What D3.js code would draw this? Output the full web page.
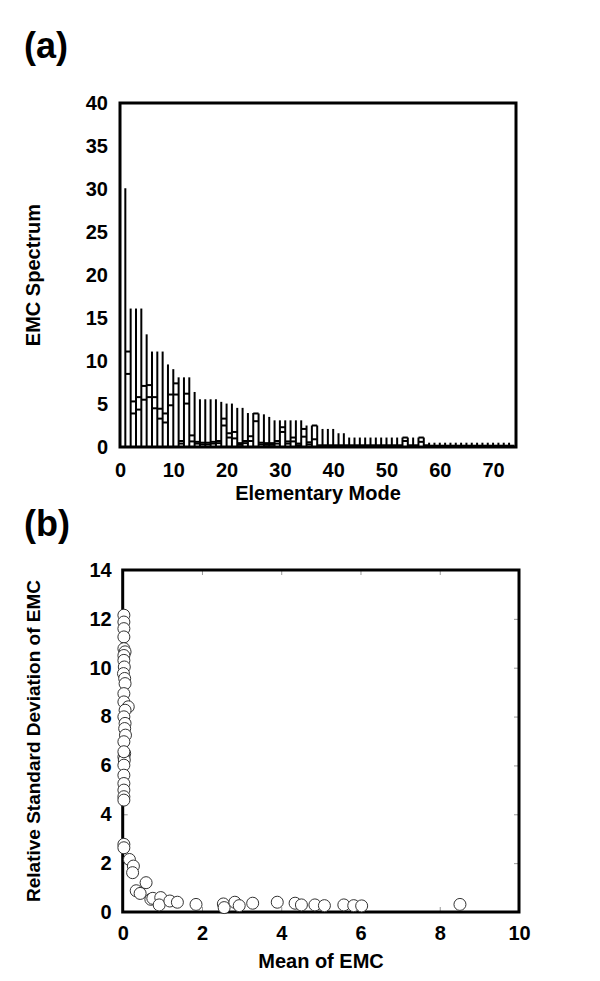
<!DOCTYPE html>
<html>
<head>
<meta charset="utf-8">
<script src="https://cdn.jsdelivr.net/npm/d3@7"></script>
<style>
  body { margin: 0; background: #fff; }
  text { font-family: "Liberation Sans", Arial, sans-serif; font-weight: bold; fill: #000; }
</style>
</head>
<body>
<div id="chart-area"></div>
<script>
// panel (a): EMC spectrum per elementary mode (max line + box marks)
const modes = d3.range(1, 74)
const emcMax = [30.1, 16.1, 16.1, 16.1, 13.1, 11.1, 11.1, 11.1, 9.6, 9.05,
  8.1, 8.1, 8.1, 6.4, 5.55, 5.55, 5.55, 5.55, 5.25, 5.05,
  5.05, 4.55, 4.55, 3.95, 3.95, 3.9, 3.8, 3.5, 3.1, 3.1,
  3.1, 3.1, 3.1, 3.1, 2.5, 2.5, 2.5, 2.1, 2.1, 2.1,
  1.6, 1.6, 1.1, 1.1, 1.1, 1.1, 1.1, 1.1, 1.1, 1.1,
  1.1, 1.1, 1.1, 1.1, 1.1, 1.1, 1.1, 0.5, 0.5, 0.5,
  0.5, 0.5, 0.5, 0.5, 0.5, 0.5, 0.5, 0.5, 0.5, 0.5,
  0.5, 0.5, 0.5]
const emcLow = [8.5, 3.9, 4.35, 5.5, 5.8, 4.5, 3.3, 2.85, 4.85, 6.1,
  0.4, 5.05, 0.65, 0.4, 0.3, 0.3, 0.4, 0.45, 2.5, 1.1,
  1.0, 0.25, 0.45, 0.7, 3.0, 0.3, 0.25, 0.25, 0.4, 1.75,
  0.4, 0.65, 0.2, 1.2, 0.3, 0.9, 0.1, 0.1, 0.1, 0.1,
  0.1, 0.1, 0.1, 0.1, 0.1, 0.1, 0.1, 0.1, 0.1, 0.1,
  0.1, 0.1, 0.7, 0.1, 0.1, 0.6, 0.1, 0.05, 0.05, 0.05,
  0.05, 0.05, 0.05, 0.05, 0.05, 0.05, 0.05, 0.05, 0.05, 0.05,
  0.05, 0.05, 0.05]
const emcHigh = [11.1, 5.3, 5.8, 7.1, 7.2, 5.8, 4.45, 3.9, 6.1, 7.4,
  0.7, 6.2, 1.35, 0.6, 0.5, 0.5, 0.6, 0.7, 3.3, 1.6,
  1.75, 0.45, 0.7, 1.25, 3.9, 0.5, 0.45, 0.45, 0.7, 2.3,
  0.65, 1.1, 0.4, 2.1, 0.55, 2.5, 0.2, 0.2, 0.2, 0.2,
  0.2, 0.2, 0.2, 0.2, 0.2, 0.2, 0.2, 0.2, 0.2, 0.2,
  0.2, 0.2, 1.1, 0.2, 0.2, 1.1, 0.2, 0.15, 0.15, 0.15,
  0.15, 0.15, 0.15, 0.15, 0.15, 0.15, 0.15, 0.15, 0.15, 0.15,
  0.15, 0.15, 0.15]
const aTicksX = [0, 10, 20, 30, 40, 50, 60, 70]
const aTicksY = [0, 5, 10, 15, 20, 25, 30, 35, 40]

// panel (b): mean vs relative standard deviation
const meanEMC = [0.03, 0.03, 0.03, 0.03, 0.03, 0.06, 0.03, 0.03, 0.04, 0.02,
  0.05, 0.06, 0.03, 0.03, 0.14, 0.06, 0.03, 0.06, 0.05, 0.07,
  0.03, 0.05, 0.03, 0.04, 0.03, 0.03, 0.03, 0.03, 0.03, 0.03,
  0.03, 0.03, 0.03, 0.17, 0.27, 0.25, 0.59, 0.34, 0.44, 0.71,
  0.76, 0.96, 0.92, 1.19, 1.38, 1.85, 2.54, 2.56, 2.83, 2.94,
  3.28, 3.9, 4.35, 4.51, 4.85, 5.09, 5.58, 5.83, 6.03, 8.51]
const rsdEMC = [12.15, 11.87, 11.6, 11.26, 10.78, 10.65, 10.5, 10.3, 10.03, 9.76,
  9.56, 9.35, 8.94, 8.6, 8.4, 8.26, 7.99, 7.72, 7.51, 7.24,
  6.97, 6.49, 6.35, 6.22, 6.01, 5.6, 5.26, 4.99, 4.72, 4.58,
  2.77, 2.63, 6.56, 2.15, 1.88, 1.61, 1.2, 0.87, 0.76, 0.52,
  0.56, 0.59, 0.29, 0.45, 0.4, 0.31, 0.33, 0.18, 0.4, 0.26,
  0.36, 0.4, 0.36, 0.29, 0.29, 0.26, 0.29, 0.26, 0.25, 0.31]
const bTicksX = [0, 2, 4, 6, 8, 10]
const bTicksY = [0, 2, 4, 6, 8, 10, 12, 14]

const svg = d3.select("#chart-area").append("svg")
  .attr("width", 600)
  .attr("height", 981)

// ---------- panel (a) ----------
const xA = d3.scaleLinear().domain([0, 74.3]).range([120, 516])
const yA = d3.scaleLinear().domain([0, 40]).range([447, 103])

const gA = svg.append("g")

svg.append("text")
  .attr("x", 24)
  .attr("y", 58)
  .attr("font-size", "36px")
  .text("(a)")

gA.selectAll(".maxline")
  .data(modes)
  .enter().append("line")
  .attr("class", "maxline")
  .attr("x1", d => xA(d))
  .attr("x2", d => xA(d))
  .attr("y1", yA(0))
  .attr("y2", (d, i) => yA(emcMax[i]))
  .attr("stroke", "#000")
  .attr("stroke-width", 2)

// box marks span from one mode line to the next
const marks = []
modes.forEach((m, i) => {
  marks.push({ m: m, v: emcLow[i] })
  marks.push({ m: m, v: emcHigh[i] })
})
gA.selectAll(".mark")
  .data(marks)
  .enter().append("line")
  .attr("class", "mark")
  .attr("x1", d => xA(d.m))
  .attr("x2", d => xA(d.m + 1))
  .attr("y1", d => yA(d.v))
  .attr("y2", d => yA(d.v))
  .attr("stroke", "#000")
  .attr("stroke-width", 2)

gA.append("rect")
  .attr("x", 120)
  .attr("y", 103)
  .attr("width", 516 - 120)
  .attr("height", 447 - 103)
  .attr("fill", "none")
  .attr("stroke", "#000")
  .attr("stroke-width", 3)

gA.append("g")
  .attr("transform", `translate(0, ${yA(0)})`)
  .call(d3.axisBottom(xA).tickValues(aTicksX).tickSize(0).tickPadding(16))
gA.append("g")
  .attr("transform", `translate(${xA(0)}, 0)`)
  .call(d3.axisLeft(yA).tickValues(aTicksY).tickSize(0).tickPadding(12))

gA.append("text")
  .attr("x", 318)
  .attr("y", 500)
  .attr("font-size", "20px")
  .attr("text-anchor", "middle")
  .text("Elementary Mode")

gA.append("text")
  .attr("transform", "rotate(-90)")
  .attr("x", -275)
  .attr("y", 40)
  .attr("font-size", "20px")
  .attr("text-anchor", "middle")
  .text("EMC Spectrum")

// ---------- panel (b) ----------
const xB = d3.scaleLinear().domain([0, 10]).range([122.7, 519])
const yB = d3.scaleLinear().domain([0, 14]).range([912, 570])

const gB = svg.append("g")

svg.append("text")
  .attr("x", 24)
  .attr("y", 536)
  .attr("font-size", "36px")
  .text("(b)")

// small inner ticks on all four sides
gB.append("g").attr("class", "inner")
  .attr("transform", `translate(0, ${yB(0)})`)
  .call(d3.axisBottom(xB).tickValues(bTicksX).tickSize(-5).tickFormat(""))
gB.append("g").attr("class", "inner")
  .attr("transform", `translate(0, ${yB(14)})`)
  .call(d3.axisTop(xB).tickValues(bTicksX).tickSize(-5).tickFormat(""))
gB.append("g").attr("class", "inner")
  .attr("transform", `translate(${xB(0)}, 0)`)
  .call(d3.axisLeft(yB).tickValues(bTicksY).tickSize(-5).tickFormat(""))
gB.append("g").attr("class", "inner")
  .attr("transform", `translate(${xB(10)}, 0)`)
  .call(d3.axisRight(yB).tickValues(bTicksY).tickSize(-5).tickFormat(""))
gB.selectAll(".inner .domain").remove()
gB.selectAll(".inner line").attr("stroke", "#999").attr("stroke-width", 1)

gB.append("rect")
  .attr("x", xB(0))
  .attr("y", yB(14))
  .attr("width", xB(10) - xB(0))
  .attr("height", yB(0) - yB(14))
  .attr("fill", "none")
  .attr("stroke", "#000")
  .attr("stroke-width", 3)

gB.selectAll("circle")
  .data(meanEMC)
  .enter().append("circle")
  .attr("cx", d => xB(d))
  .attr("cy", (d, i) => yB(rsdEMC[i]))
  .attr("r", 6)
  .attr("fill", "#fff")
  .attr("stroke", "#333")
  .attr("stroke-width", 1)

gB.append("g")
  .attr("transform", `translate(0, ${yB(0)})`)
  .call(d3.axisBottom(xB).tickValues(bTicksX).tickSize(0).tickPadding(14))
gB.append("g")
  .attr("transform", `translate(${xB(0)}, 0)`)
  .call(d3.axisLeft(yB).tickValues(bTicksY).tickSize(0).tickPadding(11))

gB.append("text")
  .attr("x", 321)
  .attr("y", 968)
  .attr("font-size", "20px")
  .attr("text-anchor", "middle")
  .text("Mean of EMC")

gB.append("text")
  .attr("transform", "rotate(-90)")
  .attr("x", -741)
  .attr("y", 40)
  .attr("font-size", "19px")
  .attr("text-anchor", "middle")
  .text("Relative Standard Deviation of EMC")

// tick label styling and hide axis domains (frames are drawn as rects)
svg.selectAll(".tick text")
  .attr("font-size", "20px")
  .attr("font-family", "Liberation Sans, Arial, sans-serif")
  .attr("font-weight", "bold")
  .attr("fill", "#000")
svg.selectAll(".domain").remove()
</script>
</body>
</html>
